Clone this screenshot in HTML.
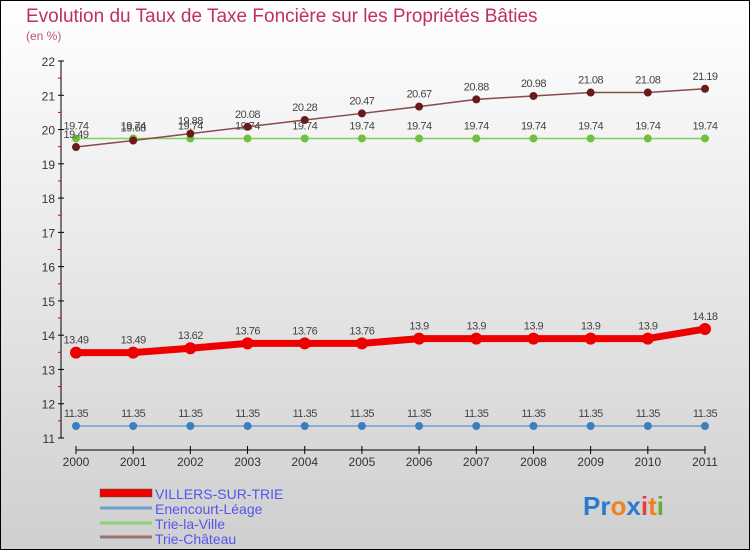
<!DOCTYPE html>
<html><head><meta charset="utf-8"><style>
body{margin:0;width:750px;height:550px;overflow:hidden;font-family:"Liberation Sans",sans-serif}
svg{display:block}
</style></head><body>
<svg id="c" width="750" height="550" xmlns="http://www.w3.org/2000/svg">
<defs><linearGradient id="bg" x1="0" y1="0" x2="0" y2="1"><stop offset="0" stop-color="#ffffff"/><stop offset="1" stop-color="#cfcfcf"/></linearGradient></defs>
<rect x="0.5" y="0.5" width="749" height="549" fill="url(#bg)" stroke="#000"/>
<text x="26" y="22" font-size="19" fill="#c0305a">Evolution du Taux de Taxe Foncière sur les Propriétés Bâties</text>
<text x="26" y="40" font-size="12" fill="#c05080">(en %)</text>
<g id="axes"></g><g id="series"></g>
<g>
<rect x="100" y="489" width="52" height="8" fill="#ee0000" stroke="#555" stroke-width="0.5"/>
<text x="155" y="499" font-size="14" fill="#5555ee">VILLERS-SUR-TRIE</text>
<line x1="100" y1="508" x2="152" y2="508" stroke="#6fa0cc" stroke-width="3"/>
<text x="155" y="514" font-size="14" fill="#5555ee">Enencourt-Léage</text>
<line x1="100" y1="523" x2="152" y2="523" stroke="#8fd070" stroke-width="3"/>
<text x="155" y="529" font-size="14" fill="#5555ee">Trie-la-Ville</text>
<line x1="100" y1="537" x2="152" y2="537" stroke="#9a7070" stroke-width="3"/>
<text x="155" y="544" font-size="14" fill="#5555ee">Trie-Château</text>
</g>
<text x="583" y="515" font-size="26" font-weight="bold"><tspan fill="#2a7ad0">Pr</tspan><tspan fill="#f08020">o</tspan><tspan fill="#2a7ad0">x</tspan><tspan fill="#e04040">i</tspan><tspan fill="#f08020">t</tspan><tspan fill="#60b030">i</tspan></text>
</svg>
<script>
const years=[2000,2001,2002,2003,2004,2005,2006,2007,2008,2009,2010,2011];
const villers=[13.49,13.49,13.62,13.76,13.76,13.76,13.9,13.9,13.9,13.9,13.9,14.18];
const enencourt=[11.35,11.35,11.35,11.35,11.35,11.35,11.35,11.35,11.35,11.35,11.35,11.35];
const trieVille=[19.74,19.74,19.74,19.74,19.74,19.74,19.74,19.74,19.74,19.74,19.74,19.74];
const trieChateau=[19.49,19.68,19.88,20.08,20.28,20.47,20.67,20.88,20.98,21.08,21.08,21.19];
const yTicks=[11,12,13,14,15,16,17,18,19,20,21,22];
const NS="http://www.w3.org/2000/svg";
const X=i=>76+i*(705-76)/(years.length-1);
const Y=v=>438-(v-11)*(438-61)/11;
function mk(tag,attrs,parent){const e=document.createElementNS(NS,tag);for(const k in attrs)e.setAttribute(k,attrs[k]);parent.appendChild(e);return e;}
const ax=document.getElementById('axes'),sg=document.getElementById('series');
let l=mk('line',{x1:61,y1:61,x2:61,y2:438,stroke:'#000','stroke-width':1},ax);


yTicks.forEach(v=>{
 const t=mk('line',{x1:58,y1:Y(v),x2:64,y2:Y(v),stroke:'#000'},ax);
 
 
 if(v<22){const m=mk('line',{x1:58,y1:Y(v+0.5),x2:61,y2:Y(v+0.5),stroke:'#e00000'},ax);
 
 }
 const tx=mk('text',{x:55,y:Y(v)+5,'font-size':12,fill:'#333','text-anchor':'end'},ax);tx.textContent=v;
 
 
});
l=mk('line',{x1:76,y1:450,x2:705,y2:450,stroke:'#000'},ax);


years.forEach((y,i)=>{
 const t=mk('line',{x1:X(i),y1:446,x2:X(i),y2:454,stroke:'#000'},ax);
 
 
 const tx=mk('text',{x:X(i),y:466,'font-size':12,fill:'#333','text-anchor':'middle'},ax);tx.textContent=y;
 
 
});
function series(name,vals,color,w,r,dot){
 const g=mk('g',{},sg);
 
 
 const p=mk('polyline',{points:vals.map((v,i)=>X(i)+','+Y(v)).join(' '),fill:'none',stroke:color,'stroke-width':w,'stroke-linejoin':'round'},g);
 
 
 vals.forEach((v,i)=>{
  const c=mk('circle',{cx:X(i),cy:Y(v),r:r,fill:dot},g);
  
  
  const t=mk('text',{x:X(i),y:Y(v)-9,'font-size':11,fill:'#444','text-anchor':'middle','letter-spacing':'-0.5'},g);t.textContent=v;
  
  
 });
}
series('enencourt',enencourt,'#6fa0cc',1.5,4,'#3a80c0');
series('trie-la-ville',trieVille,'#80d060',1.5,4,'#70c040');
series('trie-chateau',trieChateau,'#8a4a4a',1.5,4,'#6a1a1a');
series('villers',villers,'#ee0000',7,6,'#ee0000');
</script>
</body></html>
